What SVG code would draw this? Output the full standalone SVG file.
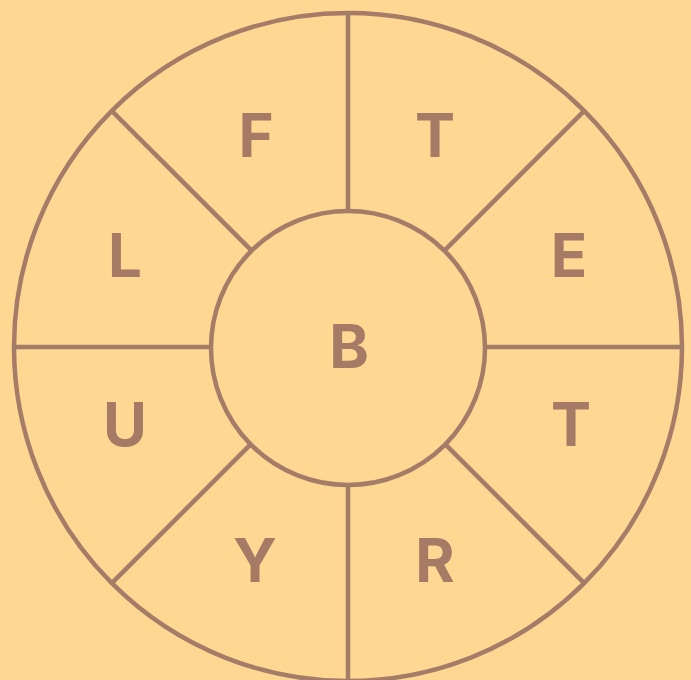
<svg xmlns="http://www.w3.org/2000/svg" width="691" height="680" viewBox="0 0 691 680">
<style>
.ln{stroke:#A57C67;stroke-width:4.5;fill:none}
.lbl{font-family:Inter,"Open Sans","Liberation Sans",sans-serif;font-weight:700;font-size:60px;fill:#A57B66;text-anchor:middle}
</style>
<rect width="691" height="680" fill="#FED793"/>
<g id="connectors">
<line class="ln" x1="348" y1="13" x2="348" y2="210"/>
<line class="ln" x1="348" y1="484" x2="348" y2="681"/>
<line class="ln" x1="14" y1="347" x2="211" y2="347"/>
<line class="ln" x1="485" y1="347" x2="682" y2="347"/>
<line class="ln" x1="111.8" y1="110.8" x2="251.1" y2="250.1"/>
<line class="ln" x1="584.2" y1="110.8" x2="444.9" y2="250.1"/>
<line class="ln" x1="111.8" y1="583.2" x2="251.1" y2="443.9"/>
<line class="ln" x1="584.2" y1="583.2" x2="444.9" y2="443.9"/>
</g>
<g id="outer"><circle class="ln" cx="348" cy="347" r="334"/></g>
<g id="center"><circle class="ln" cx="348" cy="348" r="137"/><text class="lbl" x="349" y="368">B</text></g>
<g id="seg-F"><text class="lbl" x="256" y="157">F</text></g>
<g id="seg-T1"><text class="lbl" x="435" y="157">T</text></g>
<g id="seg-E"><text class="lbl" x="569" y="277">E</text></g>
<g id="seg-T2"><text class="lbl" x="571" y="446">T</text></g>
<g id="seg-R"><text class="lbl" x="435" y="582">R</text></g>
<g id="seg-Y"><text class="lbl" x="255" y="582">Y</text></g>
<g id="seg-U"><text class="lbl" x="125" y="446">U</text></g>
<g id="seg-L"><text class="lbl" x="125" y="277">L</text></g>
</svg>
